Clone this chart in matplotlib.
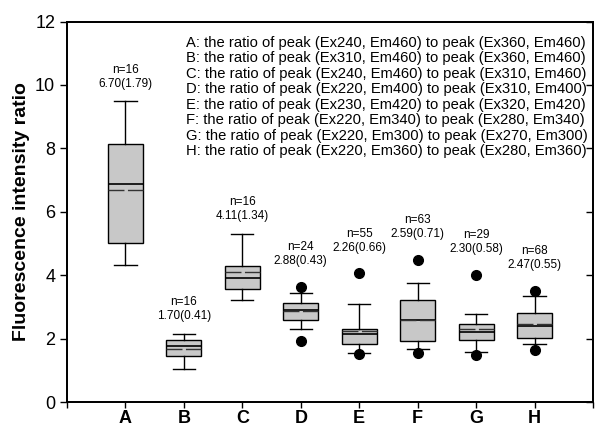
import matplotlib
matplotlib.use("Agg")
import matplotlib.pyplot as plt

plt.rcParams['font.family'] = ['Liberation Sans', 'DejaVu Sans']

# data
groups = ['A', 'B', 'C', 'D', 'E', 'F', 'G', 'H']
n_obs = [16, 16, 16, 24, 55, 63, 29, 68]
means = [6.70, 1.70, 4.11, 2.88, 2.26, 2.59, 2.30, 2.47]
sds = [1.79, 0.41, 1.34, 0.43, 0.66, 0.71, 0.58, 0.55]
medians = [6.87, 1.77, 3.91, 2.92, 2.17, 2.59, 2.21, 2.42]
q1 = [5.03, 1.47, 3.56, 2.59, 1.84, 1.95, 1.96, 2.03]
q3 = [8.15, 1.98, 4.29, 3.12, 2.32, 3.22, 2.46, 2.81]
whisk_lo = [4.32, 1.05, 3.23, 2.31, 1.57, 1.70, 1.58, 1.84]
whisk_hi = [9.50, 2.17, 5.32, 3.46, 3.11, 3.75, 2.80, 3.34]
fliers = [[], [], [], [3.64, 1.94], [4.07, 1.52], [4.49, 1.55], [4.02, 1.49], [3.52, 1.64]]

legend_lines = [
    'A: the ratio of peak (Ex240, Em460) to peak (Ex360, Em460)',
    'B: the ratio of peak (Ex310, Em460) to peak (Ex360, Em460)',
    'C: the ratio of peak (Ex240, Em460) to peak (Ex310, Em460)',
    'D: the ratio of peak (Ex220, Em400) to peak (Ex310, Em400)',
    'E: the ratio of peak (Ex230, Em420) to peak (Ex320, Em420)',
    'F: the ratio of peak (Ex220, Em340) to peak (Ex280, Em340)',
    'G: the ratio of peak (Ex220, Em300) to peak (Ex270, Em300)',
    'H: the ratio of peak (Ex220, Em360) to peak (Ex280, Em360)',
]

stats = []
for i, g in enumerate(groups):
    stats.append(dict(label=g, med=medians[i], q1=q1[i], q3=q3[i],
                      whislo=whisk_lo[i], whishi=whisk_hi[i],
                      fliers=fliers[i], mean=means[i]))

fig = plt.figure(figsize=(5.95, 4.3), dpi=100)
ax = fig.add_axes([0.1126, 0.064, 0.8840, 0.886])

pos = list(range(1, len(groups) + 1))
ax.bxp(stats, positions=pos, widths=0.6, capwidths=0.38, patch_artist=True,
       showmeans=True, meanline=True,
       boxprops=dict(facecolor='#c8c8c8', edgecolor='black', linewidth=1.0),
       medianprops=dict(color='black', linewidth=1.2),
       meanprops=dict(color='#333333', linewidth=1.0, linestyle=(0, (11.5, 2.5))),
       whiskerprops=dict(color='black', linewidth=1.0),
       capprops=dict(color='black', linewidth=1.0),
       flierprops=dict(marker='o', markerfacecolor='black', markeredgecolor='black',
                       markersize=7))

# n and mean(sd) labels above each box
for i, x in enumerate(pos):
    top = max([whisk_hi[i]] + fliers[i])
    pad = 14 if fliers[i] and max(fliers[i]) >= top else 8
    ax.annotate('n=%d\n%.2f(%.2f)' % (n_obs[i], means[i], sds[i]),
                xy=(x, top), xytext=(0, pad), textcoords='offset points',
                ha='center', va='bottom', fontsize=8.5, linespacing=1.25)

ax.text(0.226, 0.962, '\n'.join(legend_lines), transform=ax.transAxes,
        ha='left', va='top', fontsize=10.6, linespacing=1.13)

ax.set_xlim(0, 9)
ax.set_ylim(0, 12)
ax.set_xticks(range(0, 10))
ax.set_xticklabels([''] + groups + [''], fontsize=13, fontweight='bold')
ax.set_yticks(range(0, 13, 2))
ax.tick_params(axis='y', labelsize=13, direction='out', length=5, width=1)
ax.tick_params(axis='x', direction='out', length=4, width=1, pad=1.5)

ax.set_ylabel('Fluorescence intensity ratio', fontsize=14, fontweight='bold')

# inward ticks on the right spine
ax_r = ax.twinx()
ax_r.set_ylim(ax.get_ylim())
ax_r.set_yticks(range(0, 13, 2))
ax_r.tick_params(axis='y', direction='in', length=5, width=1, labelright=False)

for a in (ax, ax_r):
    for sp in a.spines.values():
        sp.set_linewidth(1.3)

fig.savefig('out.png', dpi=100)
